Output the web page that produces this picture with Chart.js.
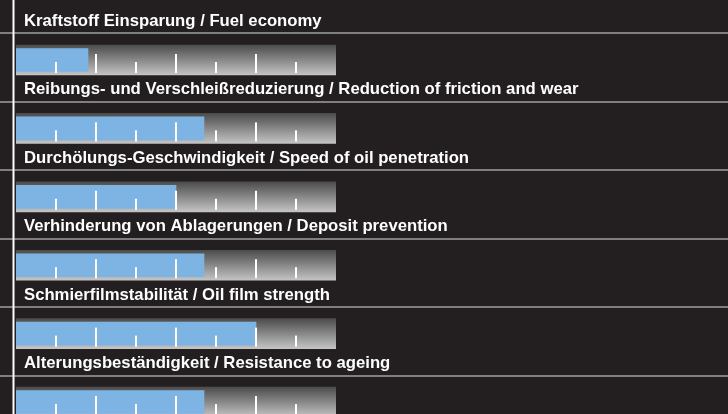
<!DOCTYPE html>
<html>
<head>
<meta charset="utf-8">
<title>Eigenschaften</title>
<script src="https://cdn.jsdelivr.net/npm/chart.js@4.4.1/dist/chart.umd.min.js"></script>
<style>
  html, body { margin: 0; padding: 0; background: #231f20; overflow: hidden; }
  .box { position: relative; width: 728px; height: 414px; }
</style>
</head>
<body>
<div class="box"><canvas id="perf"></canvas></div>
<script>
// Eigenschaften / properties, Skala 0..8
const labels = [
  "Kraftstoff Einsparung / Fuel economy",
  "Reibungs- und Verschleißreduzierung / Reduction of friction and wear",
  "Durchölungs-Geschwindigkeit / Speed of oil penetration",
  "Verhinderung von Ablagerungen / Deposit prevention",
  "Schmierfilmstabilität / Oil film strength",
  "Alterungsbeständigkeit / Resistance to ageing",
];
const values = [1.8, 4.7, 4.0, 4.7, 6.0, 4.7];
const scaleMax = 8;
const tickValues = [1, 2, 3, 4, 5, 6, 7];

const BG = "#231f20", SEP = "#7f7f7f", BLUE = "#7db4e4";
const FONT = 'bold 16.7px "Liberation Sans", Arial, sans-serif';

const rows = labels.map((_, i) => i);

function trackFill(c) {
  const ch = c.chart, y = ch.scales.y;
  if (!y || c.dataIndex === undefined) return "#8a8a8a";
  const cy = y.getPixelForValue(c.dataIndex);
  if (!isFinite(cy)) return "#8a8a8a";
  const g = ch.ctx.createLinearGradient(0, cy - 15, 0, cy + 15);
  g.addColorStop(0, "#4c4c4c");
  g.addColorStop(1, "#c4c4c4");
  return g;
}

// fondo, separadores, textos y marcas
const rowDeco = {
  id: "rowDeco",
  beforeDraw(chart) {
    const { ctx, width, height } = chart;
    ctx.save();
    ctx.fillStyle = BG;
    ctx.fillRect(0, 0, width, height);
    const y = chart.scales.y, x = chart.scales.x;
    ctx.fillStyle = SEP;
    rows.forEach((i) => {
      const cy = y.getPixelForValue(i);
      ctx.fillRect(0, Math.round(cy - 27.5), width, 2);
    });
    ctx.fillStyle = "#fff";
    ctx.font = FONT;
    ctx.textBaseline = "alphabetic";
    rows.forEach((i) => {
      const cy = y.getPixelForValue(i);
      ctx.fillText(labels[i], 24, cy - 34);
    });
    // línea vertical izquierda
    ctx.fillRect(x.getPixelForValue(0) - 3.5, 0, 2, height);
    ctx.restore();
  },
  afterDatasetsDraw(chart) {
    const { ctx } = chart;
    const y = chart.scales.y, x = chart.scales.x;
    ctx.save();
    ctx.fillStyle = "#fff";
    rows.forEach((i) => {
      const cy = y.getPixelForValue(i);
      tickValues.forEach((v) => {
        const px = Math.round(x.getPixelForValue(v)) - 1;
        const top = v % 2 === 0 ? cy - 6 : cy + 2;
        ctx.fillRect(px, top, 2, cy + 13 - top);
      });
    });
    ctx.restore();
  },
};

new Chart(document.getElementById("perf").getContext("2d"), {
  type: "bar",
  data: {
    datasets: [
      { data: rows.map((i) => ({ x: values[i], y: i })), backgroundColor: BLUE, barThickness: 23, grouped: false, order: 0 },
      { data: rows.map((i) => ({ x: scaleMax, y: i })), backgroundColor: trackFill, barThickness: 30, grouped: false, order: 1 },
    ],
  },
  options: {
    indexAxis: "y",
    responsive: true, maintainAspectRatio: false,
    animation: false, events: [],
    layout: { padding: { left: 16, right: 392, top: 0, bottom: 0 } },
    plugins: { legend: { display: false }, tooltip: { enabled: false } },
    scales: {
      x: { type: "linear", min: 0, max: scaleMax, display: false },
      y: { type: "linear", reverse: true, min: -0.877, max: 5.175, offset: false, display: false },
    },
  },
  plugins: [rowDeco],
});
</script>
</body>
</html>
